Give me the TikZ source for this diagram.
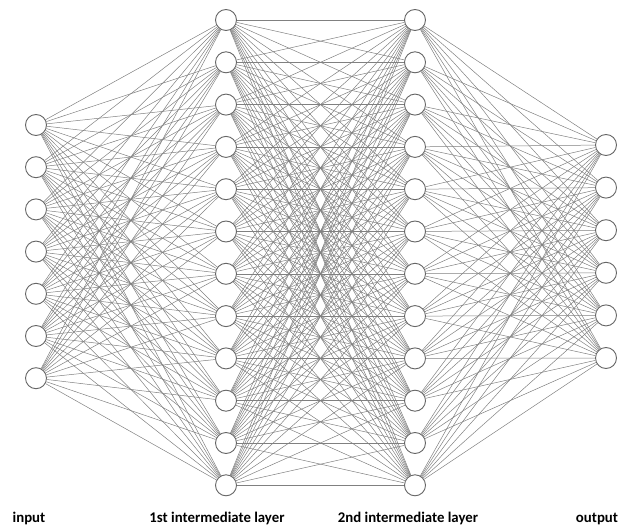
\documentclass[tikz,border=0pt]{standalone}
\usepackage{fontspec}
\setmainfont{Carlito}
\usetikzlibrary{backgrounds}
\begin{document}
\begin{tikzpicture}[x=1pt,y=-1pt,
  neuron/.style={circle,draw=black!60,line width=0.9pt,fill=white,minimum size=21pt,inner sep=0pt},
  link/.style={draw=black!50,line width=0.5pt},
  caption/.style={font=\bfseries\fontsize{14.8}{17}\selectfont,anchor=base}]
\useasboundingbox (0,0) rectangle (626,529);
% input layer
\foreach \k in {1,...,7}
  \node[neuron] (i\k) at (36,{125+42.2*(\k-1)}) {};
% first intermediate layer
\foreach \k in {1,...,12}
  \node[neuron] (a\k) at (226,{20+42.3*(\k-1)}) {};
% second intermediate layer
\foreach \k in {1,...,12}
  \node[neuron] (b\k) at (415,{20+42.3*(\k-1)}) {};
% output layer
\foreach \k in {1,...,6}
  \node[neuron] (o\k) at (606,{145+42.6*(\k-1)}) {};
% full connections between neighbouring layers
\begin{scope}[on background layer]
  \foreach \p in {1,...,7}
    \foreach \q in {1,...,12}
      \draw[link] (i\p) -- (a\q);
  \foreach \p in {1,...,12}
    \foreach \q in {1,...,12}
      \draw[link] (a\p) -- (b\q);
  \foreach \p in {1,...,12}
    \foreach \q in {1,...,6}
      \draw[link] (b\p) -- (o\q);
\end{scope}
% layer captions
\node[caption] (tin) at (29,522) {input};
\node[caption] (ta) at (217,522) {1st intermediate layer};
\node[caption] (tb) at (408,522) {2nd intermediate layer};
\node[caption] (tout) at (597,522) {output};
\end{tikzpicture}
\end{document}
